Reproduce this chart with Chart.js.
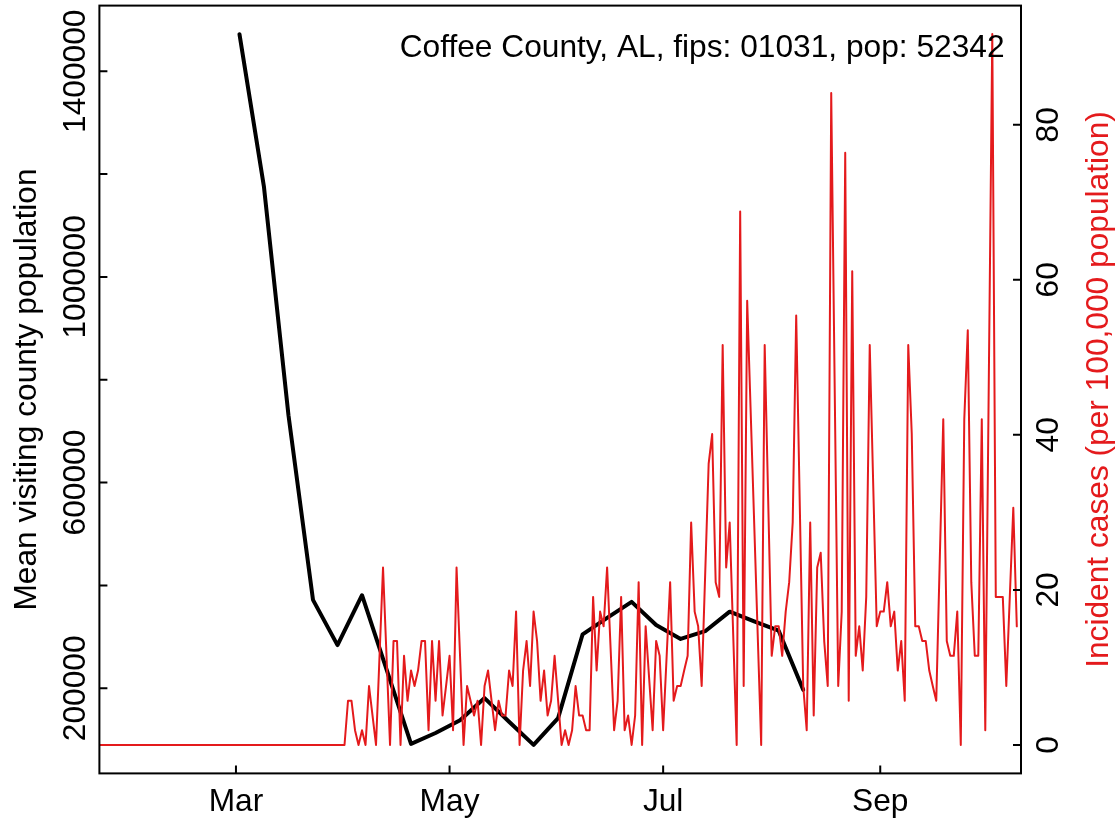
<!DOCTYPE html>
<html>
<head>
<meta charset="utf-8">
<title>Coffee County, AL</title>
<script src="https://cdn.jsdelivr.net/npm/chart.js@4.4.0/dist/chart.umd.min.js"></script>
<style>
  html, body { margin: 0; padding: 0; background: #fff; }
  #wrap { width: 1119px; height: 822px; }
</style>
</head>
<body>
<div id="wrap"><canvas id="grafico" width="1119" height="822"></canvas></div>
<script>
// dias contados a partir de 1 jan 2020 (0 = 1 jan)
const firstCaseDay = 21; // 22 jan
// casos incidentes por 100.000 hab., um valor por dia (null = dia sem registro)
const caseRate = [
    0, 0, 0, 0, 0, 0, 0, 0, 0, 0,
    0, 0, 0, 0, 0, 0, 0, 0, 0, 0,
    0, 0, 0, 0, 0, 0, 0, 0, 0, 0,
    0, 0, 0, 0, 0, 0, 0, 0, 0, 0,
    0, 0, 0, 0, 0, 0, 0, 0, 0, 0,
    0, 0, 0, 0, 0, 0, 0, 0, 0, 0,
    0, 0, 0, 0, 0, 0, 0, 0, 0, 0,
    0, 5.7, 5.7, 1.9, 0, 1.9, 0, 7.6, null, 0,
    null, 22.9, null, 0, 13.4, 13.4, 0, 11.5, 5.7, 9.6,
    7.6, 9.6, 13.4, 13.4, 1.9, 13.4, 5.7, 13.4, 3.8, 7.6,
    11.5, 1.9, 22.9, null, 0, 7.6, 5.7, 3.8, 5.7, 0,
    7.6, 9.6, 5.7, 1.9, 5.7, 3.8, 3.8, 9.6, 7.6, 17.2,
    0, 9.6, 13.4, 7.6, 17.2, 13.4, 5.7, 9.6, 3.8, 5.7,
    11.5, null, 0, 1.9, 0, 1.9, 7.6, 3.8, 3.8, 1.9,
    1.9, 19.1, 9.6, 17.2, 15.3, 22.9, null, 1.9, 5.7, 19.1,
    1.9, 3.8, 0, 3.8, 21.0, 0, 15.3, null, 1.9, 13.4,
    11.5, 1.9, null, 21.0, 5.7, 7.6, 7.6, 9.6, 11.5, 28.7,
    17.2, 15.3, 7.6, null, 36.3, 40.1, 21.0, 19.1, 51.6, 22.9,
    28.7, null, 0, 68.8, 7.6, 57.3, null, null, null, 0,
    51.6, null, 11.5, 15.3, 15.3, 11.5, 17.2, 21.0, 28.7, 55.4,
    null, 7.6, 1.9, 28.7, 3.8, 22.9, 24.8, 13.4, 7.6, 84.1,
    null, 7.6, 17.2, 76.4, 5.7, 61.1, 11.5, 15.3, 9.6, 19.1,
    51.6, null, 15.3, 17.2, 17.2, 21.0, 15.3, 17.2, 9.6, 13.4,
    5.7, 51.6, 40.1, 15.3, 15.3, 13.4, 13.4, 9.6, 7.6, 5.7,
    null, 42.0, 13.4, 11.5, 11.5, 17.2, 0, 42.0, 53.5, 21.0,
    11.5, 11.5, 42.0, 1.9, null, 91.7, 19.1, 19.1, 19.1, 7.6,
    null, 30.6, 15.3
];

// população visitante média (semanal)
const visitDays = [61, 68, 75, 82, 89, 96, 103, 110, 117, 124, 131, 138,
                   145, 152, 159, 166, 173, 180, 187, 194, 201, 208, 215, 222];
const visitPop = [1472000, 1175000, 731000, 372000, 284000, 381000, 237000, 92000,
                  113000, 138000, 181000, 135000, 90000, 142000, 305000, 337000,
                  368000, 323000, 296000, 311000, 349000, 330000, 312000, 197000];

const xTickDays = [60, 121, 182, 244];
const xTickLabels = ['Mar', 'May', 'Jul', 'Sep'];
const popTicks = [200000, 400000, 600000, 800000, 1000000, 1200000, 1400000];
const popTickLabels = ['200000', '', '600000', '', '1000000', '', '1400000'];
const rateTicks = [0, 20, 40, 60, 80];
const rateTickLabels = ['0', '20', '40', '60', '80'];

const titulo = 'Coffee County, AL, fips: 01031, pop: 52342';
const tituloEsq = 'Mean visiting county population';
const tituloDir = 'Incident cases (per 100,000 population)';

const vermelho = '#e41a1c';
const fonte = '31.7px "Liberation Sans", Arial, sans-serif';

// eixos, caixa e textos no estilo do R base
const estiloR = {
    id: 'estiloR',
    afterDatasetsDraw(chart) {
        const { ctx, chartArea: a, scales } = chart;
        ctx.save();
        ctx.strokeStyle = '#000';
        ctx.lineWidth = 2;
        ctx.strokeRect(a.left, a.top, a.right - a.left, a.bottom - a.top);

        const tl = 8; // marcas para dentro
        ctx.beginPath();
        xTickDays.forEach(d => {
            const x = scales.x.getPixelForValue(d);
            ctx.moveTo(x, a.bottom); ctx.lineTo(x, a.bottom - tl);
        });
        popTicks.forEach(v => {
            const y = scales.yL.getPixelForValue(v);
            ctx.moveTo(a.left, y); ctx.lineTo(a.left + tl, y);
        });
        rateTicks.forEach(v => {
            const y = scales.yR.getPixelForValue(v);
            ctx.moveTo(a.right, y); ctx.lineTo(a.right - tl, y);
        });
        ctx.stroke();

        ctx.font = fonte;
        ctx.fillStyle = '#000';
        ctx.textAlign = 'center';
        ctx.textBaseline = 'alphabetic';
        xTickDays.forEach((d, i) => {
            ctx.fillText(xTickLabels[i], scales.x.getPixelForValue(d), a.bottom + 38);
        });

        const vertical = (txt, x, y) => {
            ctx.save();
            ctx.translate(x, y);
            ctx.rotate(-Math.PI / 2);
            ctx.fillText(txt, 0, 0);
            ctx.restore();
        };
        popTicks.forEach((v, i) => {
            if (popTickLabels[i]) vertical(popTickLabels[i], a.left - 14.5, scales.yL.getPixelForValue(v));
        });
        rateTicks.forEach((v, i) => {
            vertical(rateTickLabels[i], a.right + 37, scales.yR.getPixelForValue(v));
        });

        const meio = (a.top + a.bottom) / 2;
        vertical(tituloEsq, 36, meio);
        ctx.fillStyle = vermelho;
        vertical(tituloDir, 1108, meio);

        ctx.fillStyle = '#000';
        ctx.textAlign = 'right';
        ctx.fillText(titulo, 1004.5, 56.5);
        ctx.restore();
    }
};

new Chart(document.getElementById('grafico').getContext('2d'), {
    type: 'line',
    data: {
        datasets: [
            {
                label: 'Incident cases',
                data: caseRate.map((v, i) => ({ x: firstCaseDay + i, y: v })),
                yAxisID: 'yR',
                borderColor: vermelho,
                borderWidth: 2,
                pointRadius: 0,
                spanGaps: true,
                tension: 0,
                borderJoinStyle: 'round',
                borderCapStyle: 'round'
            },
            {
                label: 'Mean visiting county population',
                data: visitDays.map((d, i) => ({ x: d, y: visitPop[i] })),
                yAxisID: 'yL',
                borderColor: '#000',
                borderWidth: 4,
                pointRadius: 0,
                tension: 0,
                borderJoinStyle: 'round',
                borderCapStyle: 'round'
            }
        ]
    },
    options: {
        responsive: false,
        animation: false,
        devicePixelRatio: 1,
        layout: { padding: { top: 5.6, left: 0, right: 0, bottom: 0 } },
        plugins: { legend: { display: false }, tooltip: { enabled: false } },
        scales: {
            x: {
                type: 'linear', min: 21, max: 284.2,
                grid: { display: false }, border: { display: false },
                ticks: { display: false },
                afterFit(s) { s.height = 48.6; }
            },
            yL: {
                type: 'linear', position: 'left', min: 34500, max: 1527600,
                grid: { display: false }, border: { display: false },
                ticks: { display: false },
                afterFit(s) { s.width = 99.4; }
            },
            yR: {
                type: 'linear', position: 'right', min: -3.668, max: 95.37,
                grid: { display: false }, border: { display: false },
                ticks: { display: false },
                afterFit(s) { s.width = 98; }
            }
        }
    },
    plugins: [estiloR]
});
</script>
</body>
</html>
